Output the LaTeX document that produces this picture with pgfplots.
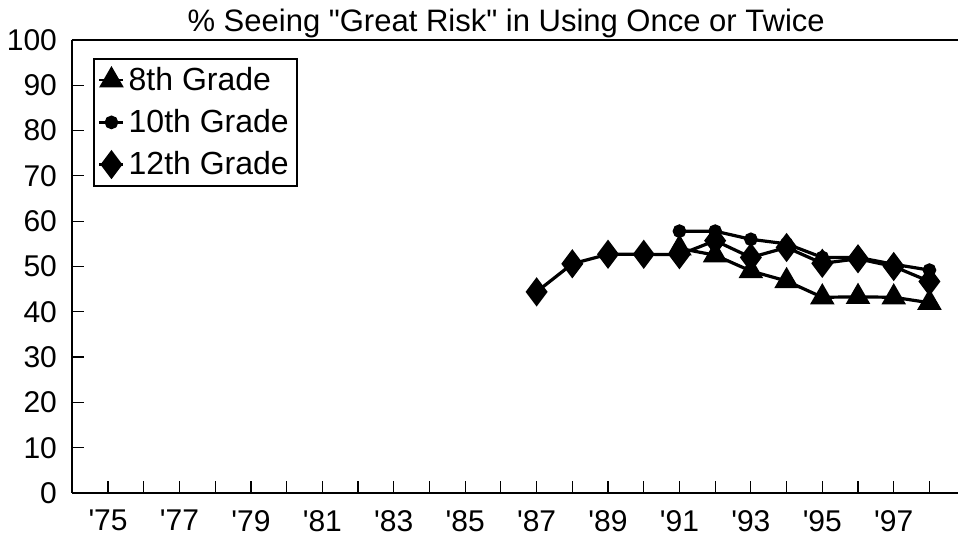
\documentclass[border=0pt]{standalone}
\usepackage{fontspec}
\setmainfont{Liberation Sans}
\usepackage{pgfplots}
\pgfplotsset{compat=1.18}
\begin{document}
\begin{tikzpicture}
\useasboundingbox (-36pt,-29pt) rectangle (443pt,246.5pt);
\begin{axis}[
  scale only axis,
  width=443pt, height=226.5pt,
  xmin=1973.99, xmax=1998.8,
  ymin=0, ymax=100,
  axis x line*=bottom,
  axis y line*=left,
  axis line style={line width=1.3pt},
  xtick={1975,1977,...,1997},
  xticklabels={\textquotesingle75,\textquotesingle77,\textquotesingle79,\textquotesingle81,\textquotesingle83,\textquotesingle85,\textquotesingle87,\textquotesingle89,\textquotesingle91,\textquotesingle93,\textquotesingle95,\textquotesingle97},
  minor xtick={1976,1978,...,1998},
  ytick={0,10,...,100},
  tick align=inside,
  major tick length=6pt, minor tick length=6pt,
  tick style={black, line width=0.6pt},
  /pgf/number format/assume math mode=true,
  tick label style={font=\fontsize{15}{17}\selectfont},
  xticklabel style={yshift=-5pt},
  yticklabel style={xshift=-4pt},
  legend style={at={(0.024,0.96)}, anchor=north west, font=\fontsize{16}{18}\selectfont,
    draw=black, line width=1pt, inner sep=2pt, row sep=4pt, cells={anchor=west}},
  legend image code/.code={\draw[line width=1.2pt,#1] (0pt,0pt) -- (12pt,0pt); \path[#1] plot coordinates {(6pt,0pt)};},
  clip=false,
]
\addplot[black, line width=1.6pt, mark=triangle*, mark size=5.5pt, mark options={solid}] coordinates {
 (1991,54) (1992,52.5) (1993,49) (1994,46.8) (1995,43.2) (1996,43.3) (1997,43.2) (1998,42)};
\addlegendentry{8th Grade}
\addplot[black, line width=1.6pt, mark=*, mark size=2.6pt] coordinates {
 (1991,57.8) (1992,57.8) (1993,56) (1994,55) (1995,52) (1996,52) (1997,50.5) (1998,49.2)};
\addlegendentry{10th Grade}
\addplot[black, line width=1.6pt, mark=diamond*, mark size=6pt] coordinates {
 (1987,44.4) (1988,50.6) (1989,52.7) (1990,52.7) (1991,52.6) (1992,55.7) (1993,52) (1994,54.2) (1995,50.7) (1996,51.7) (1997,50) (1998,46.7)};
\addlegendentry{12th Grade}
\draw[line width=1pt] (rel axis cs:0,1) -- (rel axis cs:1,1);
\node[font=\fontsize{15.5}{17}\selectfont, anchor=base, inner sep=0pt, yshift=4pt] at (rel axis cs:0.49,1) {\% Seeing \textquotedbl Great Risk\textquotedbl\ in Using Once or Twice};
\end{axis}
\end{tikzpicture}
\end{document}
